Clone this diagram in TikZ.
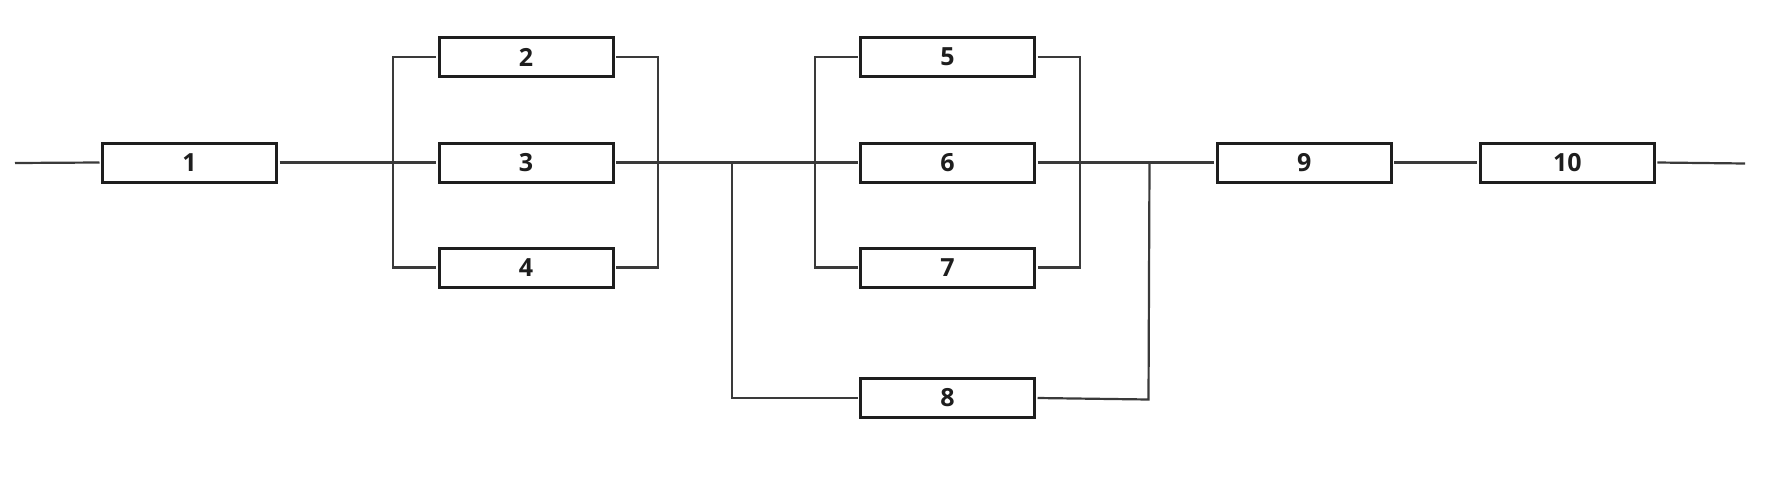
\documentclass[tikz,border=0pt]{standalone}
\usepackage{fontspec}
\setmainfont{Open Sans}
\definecolor{boxline}{HTML}{1E1E1E}
\definecolor{wire}{HTML}{3A3A3A}
\begin{document}
\begin{tikzpicture}[x=1pt,y=-1pt,
  blk/.style={draw=boxline, line width=3pt, fill=white, minimum width=174pt, minimum height=39pt,
    inner sep=0pt, outer sep=3pt, text=boxline, font=\fontsize{25}{30}\selectfont\bfseries},
  wireline/.style={draw=wire, line width=2.2pt}]
\useasboundingbox (0,0) rectangle (1773,485);
\node[blk] (b1) at (189.5,162.5) {1};
\node[blk] (b2) at (526,57) {2};
\node[blk] (b3) at (526,162.5) {3};
\node[blk] (b4) at (526,267.5) {4};
\node[blk] (b5) at (947.5,57) {5};
\node[blk] (b6) at (947.5,162.5) {6};
\node[blk] (b7) at (947.5,267.5) {7};
\node[blk] (b8) at (947.5,398) {8};
\node[blk] (b9) at (1304.3,162.5) {9};
\node[blk] (b10) at (1567.4,162.5) {10};
\coordinate (in) at (15,163);
\coordinate (out) at (1745,163.5);
\coordinate (l1) at (393,163);
\coordinate (r1) at (658,163);
\coordinate (j1) at (732,163);
\coordinate (l2) at (815,163);
\coordinate (r2) at (1080,163);
\coordinate (j2) at (1149.5,163);
\coordinate (j2b) at (1148.5,399.5);
\draw[wireline] (in) -- (b1.west);
\draw[wireline] (b1.east) -- (b3.west);
\draw[wireline] (b2.west) -- (b2.west -| l1) -- (b4.west -| l1) -- (b4.west);
\draw[wireline] (b2.east) -- (b2.east -| r1) -- (b4.east -| r1) -- (b4.east);
\draw[wireline] (b3.east) -- (b6.west);
\draw[wireline] (b5.west) -- (b5.west -| l2) -- (b7.west -| l2) -- (b7.west);
\draw[wireline] (b5.east) -- (b5.east -| r2) -- (b7.east -| r2) -- (b7.east);
\draw[wireline] (b6.east) -- (b9.west);
\draw[wireline] (j1) |- (b8.west);
\draw[wireline] (b8.east) -- (j2b) -- (j2);
\draw[wireline] (b9.east) -- (b10.west);
\draw[wireline] (b10.east) -- (out);
\end{tikzpicture}
\end{document}
